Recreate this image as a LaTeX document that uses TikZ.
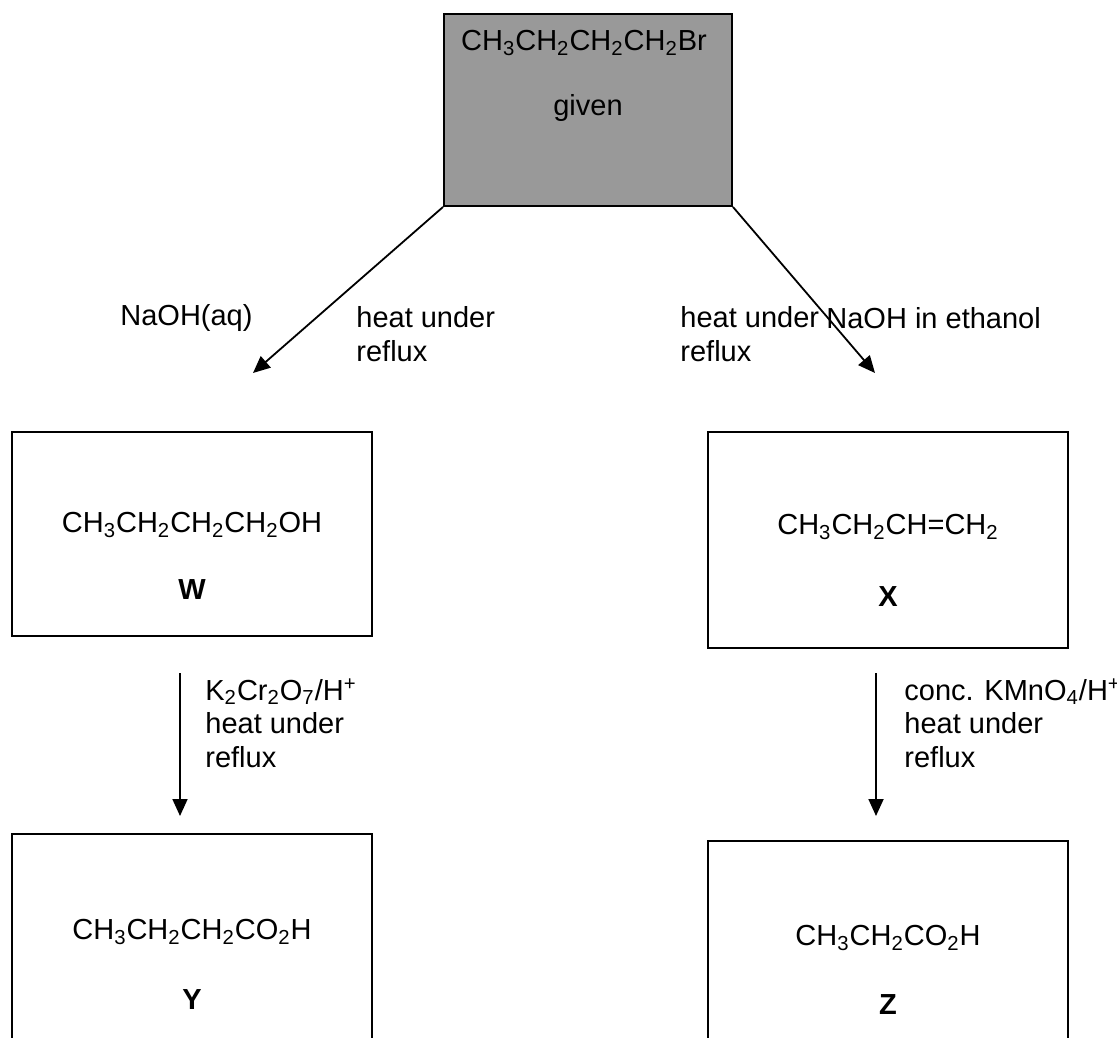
\documentclass[tikz,border=0pt]{standalone}
\usepackage{fontspec}
\setmainfont{Liberation Sans}
\usepackage{xcolor}
\usepackage{tikz}
\usetikzlibrary{arrows.meta}
\usetikzlibrary{shapes,positioning}

\definecolor{givengray}{RGB}{153,153,153}

\tikzset{
    compound/.style={
        draw,
        line width=1pt,
        inner sep=0pt,
        minimum width=180pt
    },
    formula/.style={
        inner sep=0pt,
        font=\fontsize{14.5}{16.7}\selectfont
    },
    condition/.style={
        inner sep=0pt,
        align=left,
        anchor=west,
        font=\fontsize{14.5}{16.7}\selectfont
    },
    reaction/.style={
        line width=0.9pt,
        -{Triangle[length=8.5pt,width=7.5pt]}
    }
}

\begin{document}
\begin{tikzpicture}[x=0.5pt,y=-0.5pt]
                \useasboundingbox (0,0) rectangle (1117,1037);
                \clip (0,0) rectangle (1117,1037);

                % starting material
                \node[
                    compound,
                    fill=givengray,
                    minimum width=144pt,
                    minimum height=96pt
                    ] (start) at (588,110) {};
                \node[formula] (startform) at (584,43)
                    {CH\textsubscript{3}CH\textsubscript{2}CH\textsubscript{2}CH\textsubscript{2}Br};
                \node[formula] (startname) at (588,108) {given};

                % products
                \node[compound, minimum height=102pt] (W) at (192,534) {};
                \node[formula] (Wform) at (192,525)
                    {CH\textsubscript{3}CH\textsubscript{2}CH\textsubscript{2}CH\textsubscript{2}OH};
                \node[formula] (Wname) at (192,590) {\textbf{W}};

                \node[compound, minimum height=108pt] (X) at (888,540) {};
                \node[formula] (Xform) at (888,527)
                    {CH\textsubscript{3}CH\textsubscript{2}CH=CH\textsubscript{2}};
                \node[formula] (Xname) at (888,597) {\textbf{X}};

                \node[compound, minimum height=130pt] (Y) at (192,964) {};
                \node[formula] (Yform) at (192,932)
                    {CH\textsubscript{3}CH\textsubscript{2}CH\textsubscript{2}CO\textsubscript{2}H};
                \node[formula] (Yname) at (192,1000) {\textbf{Y}};

                \node[compound, minimum height=130pt] (Z) at (888,971) {};
                \node[formula] (Zform) at (888,938)
                    {CH\textsubscript{3}CH\textsubscript{2}CO\textsubscript{2}H};
                \node[formula] (Zname) at (888,1005) {\textbf{Z}};

                % first step
                \coordinate (Wtip) at (253,373);
                \coordinate (Xtip) at (875,373);
                \draw[reaction] (start.south west) -- (Wtip);
                \draw[reaction] (start.south east) -- (Xtip);

                \node[condition] (aq) at (120,318) {NaOH(aq)};
                \node[condition] (Wheat) at (356,334) {heat under\\reflux};
                \node[condition] (Xheat) at (680,334) {heat under\\reflux};
                \node[condition] (ethanol) at (826,318) {NaOH in ethanol};

                % second step
                \draw[reaction] ([xshift=-6pt,yshift=-18pt]W.south) -- ([xshift=-6pt,yshift=8.5pt]Y.north);
                \draw[reaction] ([xshift=-6pt,yshift=-12pt]X.south) -- ([xshift=-6pt,yshift=12pt]Z.north);

                \node[condition] (dichromate) at (205,723)
                    {K\textsubscript{2}Cr\textsubscript{2}O\textsubscript{7}/H\textsuperscript{+}\\heat under\\reflux};
                \node[condition] (permanganate) at (904,723)
                    {conc. KMnO\textsubscript{4}/H\textsuperscript{+}\\heat under\\reflux};
            \end{tikzpicture}
\end{document}
